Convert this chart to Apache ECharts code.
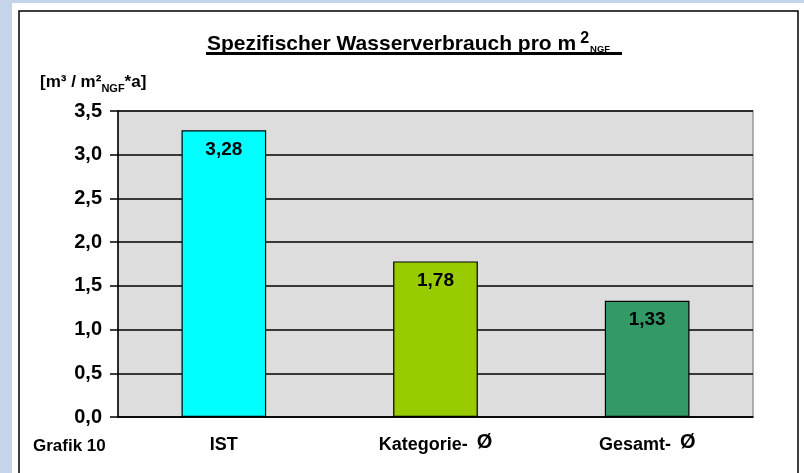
<!DOCTYPE html>
<html>
<head>
<meta charset="utf-8">
<script src="https://cdn.jsdelivr.net/npm/echarts@6/dist/echarts.min.js"></script>
<style>
  html, body { margin: 0; padding: 0; background: #c6d4ea; }
  #main { width: 804px; height: 473px; }
</style>
</head>
<body>
<div id="main"></div>
<script>
// Daten
var categories = ['{t|IST}', '{t|Kategorie-}{o|Ø}', '{t|Gesamt-}{o|Ø}'];
var values = [3.28, 1.78, 1.33];
var barColors = ['#00ffff', '#99cc00', '#339966'];
var yTicks = { min: 0, max: 3.5, interval: 0.5 };

var font = 'Liberation Sans, Arial, sans-serif';
var comma = function (v, d) { return v.toFixed(d).replace('.', ','); };

var myChart = echarts.init(document.getElementById('main'));

var option = {
  backgroundColor: '#c6d4ea',
  animation: false,
  graphic: [
    { type: 'rect', z: -10, shape: { x: 12, y: 3, width: 792, height: 470 }, style: { fill: '#ffffff' } },
    { type: 'rect', z: -9, shape: { x: 19, y: 11, width: 779, height: 480 }, style: { fill: 'none', stroke: '#000', lineWidth: 1.5 } },
    // titel + unterstrich
    {
      type: 'text', left: 207, top: 31,
      style: {
        text: '{a|Spezifischer Wasserverbrauch pro m}{s|2}{b|NGF}',
        rich: {
          a: { fontFamily: font, fontWeight: 'bold', fontSize: 21, fill: '#000', verticalAlign: 'bottom' },
          s: { fontFamily: font, fontWeight: 'bold', fontSize: 16, fill: '#000', verticalAlign: 'top', padding: [0, 0, 8, 4] },
          b: { fontFamily: font, fontWeight: 'bold', fontSize: 9.5, fill: '#000', verticalAlign: 'bottom', padding: [0, 0, 1, 1] }
        }
      }
    },
    { type: 'line', z: 10, shape: { x1: 206, y1: 53.5, x2: 622, y2: 53.5 }, style: { stroke: '#000', lineWidth: 3 } },
    {
      type: 'text', left: 40, top: 74,
      style: {
        text: '{a|[m³ / m²}{s|NGF}{a|*a]}',
        rich: {
          a: { fontFamily: font, fontWeight: 'bold', fontSize: 17, fill: '#000', verticalAlign: 'bottom' },
          s: { fontFamily: font, fontWeight: 'bold', fontSize: 11, fill: '#000', verticalAlign: 'bottom', padding: [0, 0, -3, 0] }
        }
      }
    },
    {
      type: 'text', left: 33, top: 438,
      style: { text: 'Grafik 10', fontFamily: font, fontWeight: 'bold', fontSize: 17, fill: '#000' }
    }
  ],
  grid: {
    left: 118, right: 51, top: 111, bottom: 56,
    show: true, backgroundColor: '#dddddd', borderColor: '#999999', borderWidth: 1.5
  },
  xAxis: {
    type: 'category',
    data: categories,
    axisLine: { lineStyle: { color: '#000', width: 1.5 } },
    axisTick: { length: 8, lineStyle: { color: '#000', width: 1.5 } },
    axisLabel: {
      margin: 17,
      rich: {
        t: { fontFamily: font, fontWeight: 'bold', fontSize: 18, color: '#000', lineHeight: 20, padding: [3, 0, 0, 0] },
        o: { fontFamily: font, fontWeight: 'bold', fontSize: 20, color: '#000', lineHeight: 20, padding: [0, 0, 3, 9] }
      }
    }
  },
  yAxis: {
    type: 'value',
    min: yTicks.min,
    max: yTicks.max,
    interval: yTicks.interval,
    axisLine: { show: true, lineStyle: { color: '#000', width: 1.5 } },
    axisTick: { show: true, length: 8, lineStyle: { color: '#000', width: 1.5 } },
    splitLine: { lineStyle: { color: '#000', width: 1.5 } },
    axisLabel: {
      margin: 16,
      color: '#000',
      fontFamily: font,
      fontWeight: 'bold',
      fontSize: 20,
      formatter: function (v) { return comma(v, 1); }
    }
  },
  series: [{
    type: 'bar',
    barWidth: '40%',
    data: values.map(function (v, i) {
      return { value: v, itemStyle: { color: barColors[i] } };
    }),
    itemStyle: { borderColor: '#000', borderWidth: 1.2 },
    label: {
      show: true,
      position: 'insideTop',
      distance: 10,
      color: '#000',
      fontFamily: font,
      fontWeight: 'bold',
      fontSize: 19,
      formatter: function (p) { return comma(p.value, 2); }
    }
  }]
};

myChart.setOption(option);
</script>
</body>
</html>
